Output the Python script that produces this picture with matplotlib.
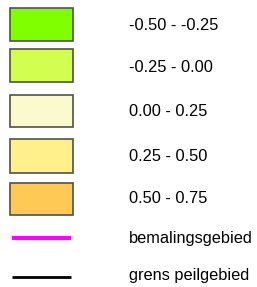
import matplotlib
matplotlib.use("Agg")
import matplotlib.pyplot as plt
from matplotlib.patches import Rectangle

labels = ["-0.50 - -0.25", "-0.25 - 0.00", "0.00 - 0.25", "0.25 - 0.50", "0.50 - 0.75"]
colors = ["#80ff00", "#d2ff4f", "#fafacc", "#fff08c", "#ffc955"]
line_labels = ["bemalingsgebied", "grens peilgebied"]
line_colors = ["#ff00ff", "#000000"]

W, H = 257, 287
fig = plt.figure(figsize=(W / 100, H / 100), dpi=100)
ax = fig.add_axes([0, 0, 1, 1])
ax.set_xlim(0, W)
ax.set_ylim(H, 0)
ax.axis("off")

box_tops = [8, 49, 95, 139, 183]
box_h = [33, 33, 32, 34, 32]
text_base = [30, 72, 116, 161, 203]
for lab, c, t, h, tb in zip(labels, colors, box_tops, box_h, text_base):
    ax.add_patch(Rectangle((9.5, t), 63.5, h, facecolor=c, edgecolor="#505050", linewidth=1.2))
    ax.text(129, tb, lab, fontsize=11.8, family="Liberation Sans", va="baseline", ha="left")

line_y = [238, 277]
line_base = [243, 280]
line_w = [3.0, 2.0]
for lab, c, y, tb, lw in zip(line_labels, line_colors, line_y, line_base, line_w):
    ax.plot([12, 71], [y, y], color=c, linewidth=lw, solid_capstyle="butt")
    ax.text(129, tb, lab, fontsize=11.8, family="Liberation Sans", va="baseline", ha="left")

fig.savefig("out.png", dpi=100)
